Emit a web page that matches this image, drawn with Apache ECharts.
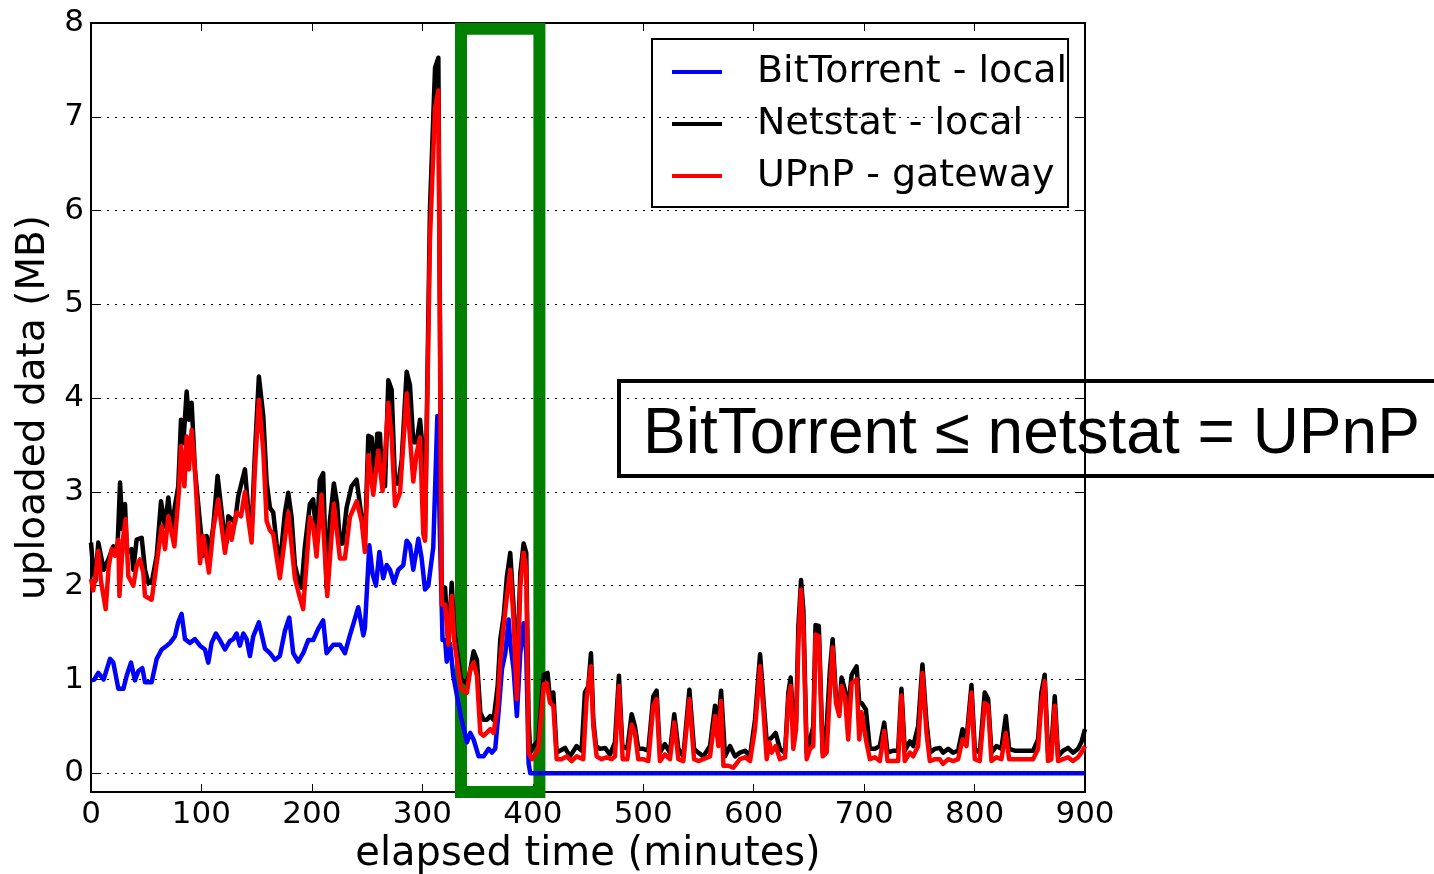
<!DOCTYPE html>
<html>
<head>
<meta charset="utf-8">
<script src="https://cdn.jsdelivr.net/npm/echarts@6/dist/echarts.min.js"></script>
<style>
html,body{margin:0;padding:0;background:#fff;}
#chart{width:1434px;height:874px;}
</style>
</head>
<body>
<div id="chart"></div>
<script>
const xTicks = [0, 100, 200, 300, 400, 500, 600, 700, 800, 900];
const yTicks = [0, 1, 2, 3, 4, 5, 6, 7, 8];
const gridValues = [0, 1, 2, 3, 4, 5, 6, 7];
const seriesNames = ['BitTorrent - local', 'Netstat - local', 'UPnP - gateway'];
const annotationText = 'BitTorrent \u2264 netstat = UPnP';
// highlighted interval (minutes) and value range of the green box
const highlightX = [335, 406];
const highlightY = [-0.2, 7.94];

const bitTorrentTime = [0,3,6.6,11.5,17.2,20.2,24.8,29.3,32.3,36.2,39.8,42.9,46.5,48.9,54.9,59.5,64,68.6,71.6,76,79,82,85.1,89.6,94.1,98.7,103.2,106.2,109.2,113.1,116.7,121.3,125.8,128.8,131.8,134.8,137.9,140.9,143.9,146.9,152,157.5,162,166.6,171,175.6,179.5,183.1,187.6,192.1,196.7,201.2,205.7,210.2,213.3,219.3,225.4,229.9,234.4,237.5,242,246.6,248,252,255,258,261.1,264.6,267.7,270.7,274.3,278.3,282.8,285.8,288.8,291.8,296.4,299.4,302.4,305.4,309.9,313.6,316,318.3,320.6,322.1,325.1,328,335,340.4,343.4,346.4,351,355.5,360,363,366,369,372.1,375.1,378.1,379.6,382.6,385.6,388.7,391.7,394.1,396.2,397.7,450,500,600,700,800,900];
const bitTorrentValues = [0.99,1.0,1.07,1.0,1.22,1.18,0.90,0.90,1.04,1.18,0.99,1.09,1.12,0.97,0.97,1.22,1.32,1.36,1.39,1.46,1.61,1.70,1.43,1.39,1.43,1.36,1.32,1.18,1.39,1.49,1.42,1.32,1.41,1.43,1.49,1.36,1.49,1.43,1.25,1.46,1.61,1.33,1.28,1.21,1.25,1.52,1.66,1.28,1.19,1.28,1.42,1.42,1.54,1.63,1.28,1.37,1.37,1.28,1.47,1.59,1.77,1.47,1.55,2.43,2.12,2.0,2.36,2.08,2.22,2.17,2.03,2.17,2.22,2.48,2.43,2.17,2.50,2.29,1.96,2.0,2.41,3.81,2.5,1.42,1.42,1.19,1.38,1.04,0.6,0.33,0.43,0.36,0.18,0.18,0.26,0.22,0.26,0.65,1.11,1.28,1.64,1.39,1.11,0.61,1.28,1.60,1.28,0.11,0,0,0,0,0,0,0];

const netstatTime = [0,2,4,6.6,11.5,15.7,20.2,24,26.3,28.5,30.8,32.5,36.8,38.3,41.3,45.9,48.9,51.9,54.9,59.5,63.4,67,70,73,76,79,81.5,83.6,86.6,88.7,91.1,94.1,98.7,101.7,104.7,106.8,110.7,114.6,116.7,119.8,122.8,124.3,127.3,130.3,133.3,136.4,139.4,142.4,145.4,148.4,152,156,159,162,165,168,171,175.6,178.6,181.6,184.6,187.6,190.6,193.6,198.2,201.2,204.2,207.2,210.2,213.3,216.3,219.9,222.9,225.4,227.8,231.4,235.9,240.5,245,248,251.1,254.1,256.5,259.2,261.6,264,266.2,269.2,272.2,275.3,278.3,281.3,285.8,288.8,291.8,294.8,297.9,300.9,302.4,306.9,311.5,314.5,317.5,320.6,323.6,326.6,329,335,340.4,343.4,346.4,349.4,352.5,355.5,358.5,361.5,364.5,368.2,370.6,373.6,376.6,379.6,382.6,385.6,388.7,391.7,394.1,396.2,397.7,400.7,405,410,413.4,415.6,418.6,421.6,424.6,429.2,433.7,439.7,444.2,447.2,450.3,452.7,454.8,457.2,460.8,465.4,469.9,474.4,478,481.1,485.6,489.5,492.5,495.5,500,504.6,509.1,512.1,515.1,519.6,524.2,528.1,531.8,536.3,541.8,546,549.9,554.4,560.5,565,568,570.5,574.1,578.6,583.1,587.6,592.2,596.7,601.2,605.8,608.8,611.8,616.3,619.9,623.8,628.4,631.4,633.5,635.9,638.4,640.5,642.9,645,648,651,654,656,659,662.5,666.1,669.1,671.5,674.5,677.5,679.6,682.6,685.6,688.7,693.2,695.6,697.7,701.6,705.2,709.7,714.2,718.2,721.2,726.3,730.8,733.8,736.8,741.4,744.4,748.9,752.8,756.5,759.5,764,768.5,771.5,776.1,780.6,785.1,789.1,792.7,797.2,800.2,804.7,809.2,812.3,815.3,819.8,824.3,828.3,831.3,836.4,840.9,846.9,853,857.5,860.5,863.5,866.5,869.5,872.6,875.6,880.1,884.6,889.1,893.7,896.7,900];
const netstatValues = [2.46,2.17,2.05,2.46,2.17,2.28,2.42,2.4,3.10,2.6,2.87,2.35,2.39,2.17,2.49,2.51,2.17,2.03,2.03,2.32,2.90,2.63,2.94,2.60,2.85,3.06,3.77,3.52,4.07,3.77,3.95,3.24,2.67,2.32,2.53,2.32,2.63,3.17,2.95,2.63,2.46,2.74,2.71,2.67,2.95,3.10,3.24,2.81,2.60,3.41,4.23,3.81,3.11,2.83,2.78,2.45,2.22,2.78,2.99,2.73,2.22,2.08,1.98,2.41,2.87,2.92,2.50,3.13,3.20,1.98,2.69,3.09,2.87,2.45,2.45,2.83,3.06,3.13,2.73,2.45,3.60,3.58,3.11,3.62,3.62,3.06,3.06,4.19,4.09,3.09,3.09,3.34,4.28,4.14,3.53,3.53,3.77,3.39,2.50,6.02,7.52,7.63,1.94,1.98,1.37,2.03,1.5,1.0,0.96,1.1,1.30,1.21,0.65,0.57,0.57,0.61,0.57,0.93,1.43,1.67,2.10,2.35,1.78,1.04,2.13,2.45,2.35,0.57,0.22,0.29,0.35,1.05,1.07,0.79,0.86,0.22,0.24,0.27,0.18,0.29,0.24,0.86,0.93,1.28,0.57,0.29,0.26,0.27,0.20,0.33,1.04,0.29,0.26,0.63,0.50,0.26,0.26,0.24,0.82,0.88,0.22,0.31,0.22,0.63,0.26,0.18,0.89,0.26,0.22,0.18,0.29,0.72,0.54,0.88,0.18,0.29,0.18,0.22,0.24,0.18,0.57,1.27,0.79,0.34,0.38,0.43,0.26,0.22,0.86,1.02,0.54,0.54,1.57,2.06,1.74,0.22,0.35,0.5,1.58,1.57,0.22,0.50,1.11,1.43,0.82,0.65,1.02,0.89,0.68,1.05,1.14,0.75,0.75,0.68,0.26,0.26,0.29,0.54,0.22,0.24,0.24,0.90,0.24,0.34,0.29,0.50,1.16,0.54,0.22,0.26,0.27,0.22,0.26,0.22,0.24,0.47,0.36,0.94,0.26,0.22,0.86,0.79,0.22,0.29,0.26,0.61,0.26,0.24,0.24,0.24,0.24,0.36,0.86,1.05,0.22,0.26,0.82,0.18,0.24,0.27,0.22,0.26,0.33,0.47];

const upnpTime = [0,2,4,6.6,9,13.3,16,18.7,21.7,24.8,25.7,29.3,31.4,33.8,38.3,41.3,44.3,47.3,48.9,54.9,57.9,64,67,70,75.5,79.7,81.5,84.6,86.6,88.7,91.1,94.1,98.7,101.7,106.8,110.7,115.2,118.3,121.3,125.2,127.3,131.8,135.8,139.4,142.4,145.4,148.4,152,156,159,162,165,168,171,178.6,184.6,187.6,192.1,198.2,201.2,204.2,208.7,213.9,219.9,225.4,229.9,234.4,240.5,245,248,251.1,255.6,260.1,264,269.2,272.2,275.3,279.8,285.8,288.8,291.8,294.8,297.9,300.9,302.4,306.9,311.5,314.5,317.5,320.6,323.6,326.6,329,335,340.4,343.4,346.4,349.4,352.5,355.5,361.5,364.5,368.2,370.6,373.6,376.6,379.6,382.6,385.6,388.7,391.7,394.1,396.2,399.2,405,410,412.6,415.6,418.6,421.6,426,430.7,435.2,439.7,445.7,448.7,452.7,454.8,457.8,462.3,466.9,471.4,474.4,478,481.4,485.6,489.5,492.5,495.5,500,504.6,509.1,512.1,515.1,519.6,524.2,528.1,531.8,536.3,541.8,546,549.9,554.4,560.5,565,568,570.5,572.6,577.1,581.6,587.6,592.2,596.7,601.2,605.8,608.8,611.8,614.2,616.3,619.9,623.8,628.4,631.4,633.5,635.9,638.4,640.5,642.9,645,648,651,654,656,659,662.5,666.1,669.1,671.5,674.5,677.5,679.6,682.6,685.6,688.7,693.2,695.6,697.7,701.6,705.2,709.7,714.2,718.2,721.2,726.3,730.8,733.8,736.8,741.4,744.4,748.9,752.8,756.5,759.5,764,768.5,771.5,776.1,780.6,785.1,789.1,792.7,797.2,800.2,804.7,809.2,812.3,815.3,819.8,824.3,828.3,831.3,836.4,840.9,846.9,853,857.5,860.5,863.5,866.5,869.5,872.6,875.6,880.1,884.6,889.1,893.7,896.7,900];
const upnpValues = [2.07,1.95,2.1,2.37,2.05,1.75,2.2,2.39,2.32,2.49,1.89,2.53,2.71,2.10,2.0,2.21,2.28,2.14,1.89,1.85,2.10,2.63,2.39,2.74,2.42,3.02,3.49,3.06,3.59,3.24,3.66,3.24,2.24,2.53,2.14,2.60,2.92,2.63,2.35,2.67,2.49,2.78,2.74,3.0,2.71,2.46,3.24,3.98,3.44,2.69,2.59,2.55,2.31,2.08,2.78,2.08,1.94,1.75,2.73,2.64,2.31,2.97,1.89,2.87,2.29,2.29,2.73,2.90,2.69,2.36,3.39,2.97,3.44,3.01,3.95,3.58,2.85,2.99,4.05,3.58,3.11,3.41,3.58,2.55,2.48,5.69,7.09,7.28,1.80,1.80,1.37,1.89,1.4,0.9,0.86,1.11,1.18,1.04,0.43,0.40,0.47,0.43,0.72,1.21,1.57,1.89,2.17,1.64,0.79,1.99,2.35,2.17,0.22,0.15,0.25,0.95,0.96,0.75,0.72,0.15,0.15,0.18,0.13,0.18,0.15,0.79,1.14,0.50,0.18,0.15,0.17,0.15,0.18,0.93,0.15,0.15,0.52,0.43,0.15,0.15,0.13,0.72,0.79,0.13,0.20,0.15,0.54,0.15,0.13,0.79,0.15,0.13,0.15,0.18,0.61,0.29,0.77,0.08,0.08,0.06,0.15,0.17,0.13,0.47,1.14,0.68,0.15,0.33,0.22,0.29,0.15,0.17,0.79,0.93,0.26,0.47,1.39,1.96,1.57,0.15,0.26,0.29,1.48,1.46,0.18,0.22,0.89,1.34,0.75,0.61,0.93,0.82,0.36,0.96,1.0,0.36,0.65,0.36,0.15,0.17,0.13,0.45,0.13,0.13,0.13,0.83,0.13,0.22,0.18,0.29,1.07,0.43,0.13,0.15,0.15,0.10,0.15,0.13,0.15,0.36,0.29,0.86,0.15,0.13,0.75,0.72,0.13,0.17,0.15,0.43,0.15,0.15,0.15,0.15,0.15,0.26,0.75,0.98,0.13,0.15,0.72,0.13,0.15,0.17,0.13,0.17,0.22,0.29];

const pair = (ts, vs) => ts.map((t, i) => [t, vs[i]]);

const FONT = 'DejaVu Sans';
const chart = echarts.init(document.getElementById('chart'), null, {renderer: 'canvas'});

const lineSeries = (name, color, ts, vs, z) => ({
  name: name, type: 'line', data: pair(ts, vs), showSymbol: false, symbol: 'none',
  lineStyle: {color: color, width: 4.5, join: 'round'}, itemStyle: {color: color}, z: z, silent: true
});

chart.setOption({
  animation: false,
  backgroundColor: '#fff',
  grid: {left: 91, right: 349, top: 23, bottom: 82, containLabel: false, outerBoundsMode: 'none'},
  xAxis: [
    {type: 'value', min: 0, max: 900, interval: 100, position: 'bottom',
     axisLine: {show: true, onZero: false, lineStyle: {color: '#000', width: 2}},
     axisTick: {show: true, inside: true, length: 8, lineStyle: {color: '#000', width: 1}},
     axisLabel: {show: true, color: '#000', fontFamily: FONT, fontSize: 31, margin: 7},
     splitLine: {show: false},
     name: 'elapsed time (minutes)', nameLocation: 'middle', nameGap: 42,
     nameTextStyle: {color: '#000', fontFamily: FONT, fontSize: 40}},
    {type: 'value', min: 0, max: 900, interval: 100, position: 'top',
     axisLine: {show: true, onZero: false, lineStyle: {color: '#000', width: 2}},
     axisTick: {show: true, inside: true, length: 8, lineStyle: {color: '#000', width: 1}},
     axisLabel: {show: false}, splitLine: {show: false}}
  ],
  yAxis: [
    {type: 'value', min: -0.2, max: 8, position: 'left',
     axisLine: {show: true, onZero: false, lineStyle: {color: '#000', width: 2}},
     axisTick: {show: true, inside: true, length: 9, customValues: yTicks, lineStyle: {color: '#000', width: 1}},
     axisLabel: {show: true, customValues: yTicks, color: '#000', fontFamily: FONT, fontSize: 31, margin: 7},
     splitLine: {show: false},
     name: 'uploaded data (MB)', nameLocation: 'middle', nameGap: 31, nameRotate: 90,
     nameTextStyle: {color: '#000', fontFamily: FONT, fontSize: 39}},
    {type: 'value', min: -0.2, max: 8, position: 'right',
     axisLine: {show: true, onZero: false, lineStyle: {color: '#000', width: 2}},
     axisTick: {show: true, inside: true, length: 9, customValues: yTicks, lineStyle: {color: '#000', width: 1}},
     axisLabel: {show: false}, splitLine: {show: false}}
  ],
  legend: {
    data: seriesNames.map(n => ({name: n, icon: 'rect'})),
    orient: 'vertical', left: 652, top: 39,
    itemWidth: 50, itemHeight: 4, itemGap: 12,
    padding: [13, 1, 11, 20],
    backgroundColor: '#fff', borderColor: '#000', borderWidth: 2,
    textStyle: {color: '#000', fontFamily: FONT, fontSize: 38, lineHeight: 40, padding: [0, 0, 0, 30]},
    selectedMode: false
  },
  series: [
    {name: 'grid', type: 'line', data: [], z: 1, silent: true,
     markLine: {silent: true, symbol: ['none', 'none'], label: {show: false}, animation: false,
       lineStyle: {color: '#000', width: 1, type: [2, 6]},
       data: gridValues.map(v => ({yAxis: v}))}},
    lineSeries(seriesNames[0], '#0000ff', bitTorrentTime, bitTorrentValues, 3),
    lineSeries(seriesNames[1], '#000000', netstatTime, netstatValues, 4),
    lineSeries(seriesNames[2], '#ff0000', upnpTime, upnpValues, 5),
    {name: 'box', type: 'line', data: [], z: 10, silent: true, clip: false,
     markArea: {silent: true, animation: false,
       itemStyle: {color: 'rgba(0,0,0,0)', borderColor: '#008000', borderWidth: 12},
       data: [[{xAxis: highlightX[0], yAxis: highlightY[0]}, {xAxis: highlightX[1], yAxis: highlightY[1]}]]}}
  ],
  graphic: [
    {type: 'group', left: 617, top: 379, z: 100, children: [
      {type: 'rect', shape: {x: 2, y: 2, width: 900, height: 95},
       style: {fill: '#fff', stroke: '#000', lineWidth: 4}},
      {type: 'text', x: 26, y: 56,
       style: {text: annotationText, fill: '#000', font: '64px "Liberation Sans"', textVerticalAlign: 'middle', textAlign: 'left'}}
    ]}
  ]
});
</script>
</body>
</html>
